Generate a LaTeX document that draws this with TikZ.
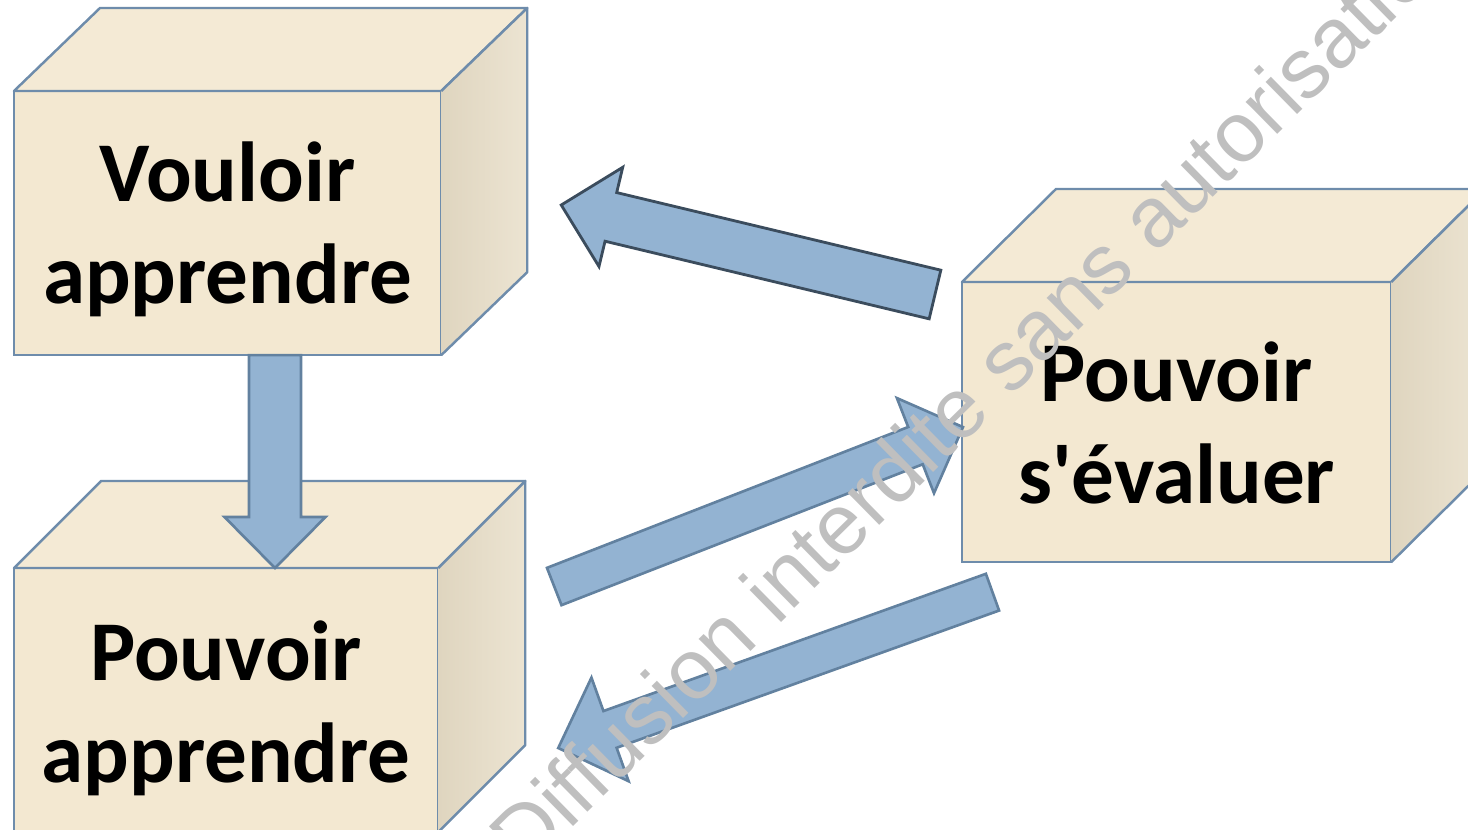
\documentclass[tikz,border=0pt]{standalone}
\usepackage{fontspec}
\usetikzlibrary{calc}
\newfontfamily\labelfont{Carlito}[Ligatures=TeXOff]
\newfontfamily\markfont{Liberation Sans}

\definecolor{edgeblue}{HTML}{6E8CAB}
\definecolor{facefront}{HTML}{F3E8D1}
\definecolor{facetop}{HTML}{F4EAD5}
\definecolor{sidedark}{HTML}{DFD5BF}
\definecolor{sidelight}{HTML}{ECE4D2}
\definecolor{arrowfill}{HTML}{93B3D2}
\definecolor{arrowedge}{HTML}{62819F}
\definecolor{arrowedgedark}{HTML}{3B4C5D}
\definecolor{markgray}{HTML}{BFBFBF}

\tikzset{
  front/.style={draw=edgeblue, line width=0.7pt, fill=facefront,
    outer sep=0pt, inner sep=0pt, anchor=north west},
  topface/.style={draw=edgeblue, line width=0.7pt, fill=facetop, line join=round},
  sideface/.style={left color=sidedark, right color=sidelight},
  sideedge/.style={draw=edgeblue, line width=0.7pt, line join=round},
  boxlabel/.style={font=\labelfont\bfseries\fontsize{24.2pt}{29pt}\selectfont,
    align=center, inner sep=0pt},
  blockstyle/.style={fill=arrowfill, draw=arrowedge, line width=0.75pt},
  blockstyledark/.style={fill=arrowfill, draw=arrowedgedark, line width=0.8pt},
  watermark/.style={font=\markfont\fontsize{24.2pt}{29pt}\selectfont,
    text=markgray, inner sep=0pt}
}

% cuboid faces behind a front node: #1 node, #2 depth x, #3 depth y (upwards)
\newcommand\cuboidfaces[3]{%
  \filldraw[topface] (#1.north west) -- ++(#2,-#3)
    -- ($(#1.north east)+(#2,-#3)$) -- (#1.north east) -- cycle;
  \shade[sideface] (#1.north east) -- ++(#2,-#3)
    -- ($(#1.south east)+(#2,-#3)$) -- (#1.south east) -- cycle;
  \draw[sideedge] (#1.north east) -- ++(#2,-#3)
    -- ($(#1.south east)+(#2,-#3)$) -- (#1.south east);
}

% block arrow: #1 style, #2 tail, #3 tip, #4 shaft half width,
% #5 head half width, #6 head length
\newcommand\blockarrow[6]{%
  \draw[#1] ($(#2)!#4!90:(#3)$)
    -- ($(#3)!#6!(#2)!#4!-90:(#2)$)
    -- ($(#3)!#6!(#2)!#5!-90:(#2)$)
    -- (#3)
    -- ($(#3)!#6!(#2)!#5!90:(#2)$)
    -- ($(#3)!#6!(#2)!#4!90:(#2)$)
    -- ($(#2)!#4!-90:(#3)$) -- cycle;
}

\begin{document}
\begin{tikzpicture}[x=0.01cm, y=-0.01cm]
  \useasboundingbox (0,0) rectangle (1468,829);
  \clip (0,0) rectangle (1468,829);

  % the three boxes
  \node[front, minimum width=4.27cm, minimum height=2.64cm] (vouloir) at (14,91) {};
  \cuboidfaces{vouloir}{86}{83}
  \node[front, minimum width=4.24cm, minimum height=2.64cm] (pouvoir) at (14,568) {};
  \cuboidfaces{pouvoir}{87}{87}
  \node[front, minimum width=4.29cm, minimum height=2.80cm] (evaluer) at (962,282) {};
  \cuboidfaces{evaluer}{94}{93}

  \node[boxlabel] (vouloirtext) at ($(vouloir.center)+(0,6.5)$) {Vouloir\\apprendre};
  \node[boxlabel] (pouvoirtext) at ($(pouvoir.center)+(0,8.5)$) {Pouvoir\\apprendre};
  \node[boxlabel] (evaluertext) at ($(evaluer.center)+(0,1)$) {Pouvoir\\s'évaluer};

  % arrow end points
  \coordinate (downtail) at ($(vouloir.south west)+(261,0)$);
  \coordinate (downtip) at (downtail |- pouvoir.north);
  \coordinate (backtail) at ($(evaluer.north west)+(-27,12.5)$);
  \coordinate (backtip) at ($(vouloir.north east)+(120,114)$);
  \coordinate (uptail) at ($(pouvoir.north east)+(116,18.5)$);
  \coordinate (uptip) at ($(evaluer.west)+(1,5)$);
  \coordinate (lowtail) at ($(evaluer.south west)+(30.5,30)$);
  \coordinate (lowtip) at ($(pouvoir.north east)+(120,180)$);

  \blockarrow{blockstyle}{downtail}{downtip}{0.26cm}{0.505cm}{0.51cm}
  \blockarrow{blockstyledark}{backtail}{backtip}{0.25cm}{0.51cm}{0.51cm}
  \blockarrow{blockstyle}{uptail}{uptip}{0.20cm}{0.51cm}{0.51cm}
  \blockarrow{blockstyle}{lowtail}{lowtip}{0.195cm}{0.55cm}{0.55cm}

  % watermark across the page
  \node[watermark, rotate=44.5, anchor=base west] (mark) at (525,874)
    {Diffusion interdite sans autorisation};
\end{tikzpicture}
\end{document}
